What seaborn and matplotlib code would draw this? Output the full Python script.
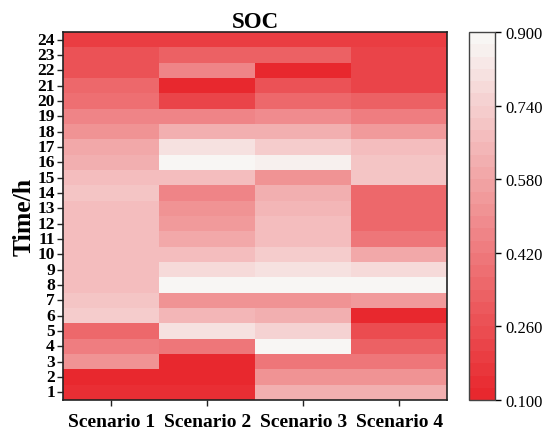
import numpy as np
import pandas as pd
import matplotlib
matplotlib.use("Agg")
import matplotlib.pyplot as plt
import seaborn as sns
from matplotlib.colors import LinearSegmentedColormap, ListedColormap

# SOC per hour (1..24) for each scenario
hours = list(range(1, 25))
scenarios = ["Scenario 1", "Scenario 2", "Scenario 3", "Scenario 4"]
s1 = [0.14, 0.11, 0.52, 0.44, 0.36, 0.74, 0.70, 0.68, 0.67, 0.66, 0.66, 0.67,
      0.68, 0.70, 0.66, 0.63, 0.58, 0.50, 0.45, 0.37, 0.35, 0.28, 0.27, 0.20]
s2 = [0.14, 0.11, 0.11, 0.42, 0.82, 0.64, 0.52, 0.89, 0.79, 0.68, 0.60, 0.53,
      0.50, 0.46, 0.66, 0.89, 0.80, 0.62, 0.45, 0.23, 0.11, 0.47, 0.32, 0.20]
s3 = [0.62, 0.50, 0.42, 0.89, 0.76, 0.62, 0.52, 0.89, 0.80, 0.72, 0.66, 0.66,
      0.65, 0.62, 0.52, 0.86, 0.74, 0.62, 0.48, 0.36, 0.28, 0.12, 0.33, 0.20]
s4 = [0.62, 0.50, 0.42, 0.33, 0.26, 0.12, 0.54, 0.89, 0.78, 0.58, 0.42, 0.36,
      0.36, 0.34, 0.70, 0.70, 0.66, 0.54, 0.44, 0.33, 0.22, 0.21, 0.22, 0.20]
cbar_ticks = [0.100, 0.260, 0.420, 0.580, 0.740, 0.900]

df = pd.DataFrame(dict(zip(scenarios, [s1, s2, s3, s4])), index=hours)
df = df.iloc[::-1]  # hour 24 on top

base = LinearSegmentedColormap.from_list("soc", ["#E8282E", "#F8F6F4"])
cmap = ListedColormap(base(np.linspace(0, 1, 30)))

plt.rcParams["font.family"] = ["Liberation Serif", "DejaVu Serif"]

fig = plt.figure(figsize=(5.5, 4.35), dpi=100)
ax = fig.add_axes([0.115, 0.078, 0.698, 0.846])
cax = fig.add_axes([0.853, 0.078, 0.047, 0.846])

sns.heatmap(df, ax=ax, cbar_ax=cax, cmap=cmap, vmin=0.1, vmax=0.9,
            cbar_kws={"ticks": cbar_ticks, "format": "%.3f"})

for sp in ax.spines.values():
    sp.set_visible(True)
    sp.set_color("#222222")
    sp.set_linewidth(1.2)

ax.set_title("SOC", fontsize=16.5, fontweight="bold", pad=3)
ax.set_ylabel("Time/h", fontsize=18.5, fontweight="bold", labelpad=1)
ax.set_xlabel("")
ax.tick_params(axis="both", length=4, width=1.0, color="#222222", pad=2)
ax.set_yticklabels(ax.get_yticklabels(), rotation=0, fontsize=12.5, fontweight="bold")
ax.set_xticklabels(ax.get_xticklabels(), rotation=0, fontsize=14, fontweight="bold")
ax.tick_params(axis="x", pad=5)

cax.tick_params(labelsize=12, length=4, width=1.0)
cbar = ax.collections[0].colorbar
cbar.outline.set_visible(True)
cbar.outline.set_edgecolor("#444444")
cbar.outline.set_linewidth(1.0)

fig.savefig("out.png", dpi=100)
